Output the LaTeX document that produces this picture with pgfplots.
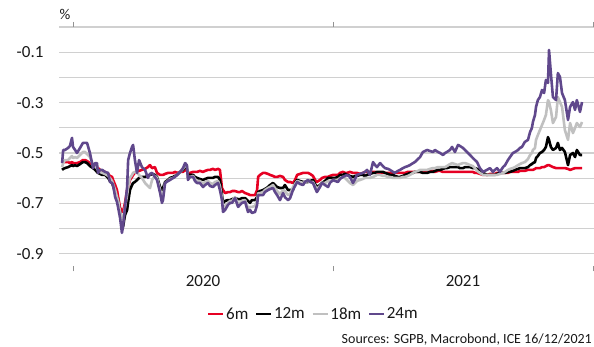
\documentclass[border=0pt]{standalone}
\usepackage{pgfplots}
\pgfplotsset{compat=1.18}
\usepackage{pgfplotstable}
\usepackage{fontspec}
\setmainfont{Carlito}

\definecolor{c6}{RGB}{230,0,35}
\definecolor{c12}{RGB}{0,0,0}
\definecolor{c18}{RGB}{192,192,192}
\definecolor{c24}{RGB}{96,72,140}
\definecolor{gridc}{RGB}{208,208,208}
\definecolor{txt}{RGB}{25,25,25}

% Swap rates by maturity, in %, time as decimal year
\pgfplotstableread{
t r6 r12 r18 r24
2019.958 -0.540 -0.567 -0.556 -0.540
2019.962 -0.536 -0.563 -0.540 -0.488
2019.969 -0.536 -0.560 -0.528 -0.488
2019.981 -0.536 -0.556 -0.528 -0.480
2019.988 -0.540 -0.552 -0.520 -0.472
2019.996 -0.536 -0.548 -0.512 -0.440
2020.000 -0.540 -0.552 -0.520 -0.476
2020.008 -0.540 -0.548 -0.516 -0.488
2020.015 -0.540 -0.552 -0.520 -0.500
2020.027 -0.536 -0.544 -0.508 -0.480
2020.038 -0.528 -0.536 -0.496 -0.460
2020.046 -0.528 -0.536 -0.496 -0.460
2020.054 -0.532 -0.540 -0.504 -0.460
2020.065 -0.540 -0.552 -0.516 -0.500
2020.077 -0.552 -0.560 -0.548 -0.560
2020.085 -0.552 -0.567 -0.552 -0.540
2020.092 -0.556 -0.575 -0.560 -0.540
2020.096 -0.560 -0.579 -0.567 -0.579
2020.104 -0.567 -0.583 -0.575 -0.567
2020.112 -0.571 -0.587 -0.579 -0.567
2020.123 -0.575 -0.587 -0.583 -0.575
2020.135 -0.583 -0.599 -0.591 -0.579
2020.142 -0.591 -0.611 -0.599 -0.615
2020.150 -0.595 -0.619 -0.611 -0.619
2020.154 -0.607 -0.631 -0.623 -0.627
2020.162 -0.627 -0.655 -0.647 -0.675
2020.169 -0.647 -0.679 -0.675 -0.694
2020.173 -0.671 -0.687 -0.687 -0.714
2020.181 -0.718 -0.734 -0.734 -0.758
2020.188 -0.730 -0.766 -0.766 -0.817
2020.192 -0.734 -0.794 -0.766 -0.794
2020.200 -0.698 -0.746 -0.714 -0.714
2020.208 -0.647 -0.726 -0.667 -0.635
2020.212 -0.635 -0.694 -0.635 -0.528
2020.219 -0.607 -0.647 -0.599 -0.500
2020.227 -0.595 -0.627 -0.587 -0.476
2020.231 -0.587 -0.619 -0.579 -0.468
2020.238 -0.579 -0.615 -0.575 -0.528
2020.246 -0.575 -0.607 -0.579 -0.579
2020.254 -0.571 -0.599 -0.587 -0.528
2020.265 -0.567 -0.595 -0.599 -0.556
2020.277 -0.563 -0.595 -0.619 -0.567
2020.288 -0.556 -0.591 -0.631 -0.599
2020.296 -0.548 -0.587 -0.639 -0.583
2020.304 -0.560 -0.583 -0.607 -0.579
2020.315 -0.556 -0.587 -0.591 -0.595
2020.323 -0.579 -0.595 -0.599 -0.607
2020.335 -0.587 -0.635 -0.647 -0.659
2020.342 -0.587 -0.647 -0.679 -0.698
2020.346 -0.587 -0.639 -0.671 -0.687
2020.354 -0.583 -0.615 -0.619 -0.619
2020.365 -0.579 -0.607 -0.611 -0.611
2020.373 -0.579 -0.599 -0.603 -0.607
2020.385 -0.579 -0.595 -0.599 -0.599
2020.392 -0.575 -0.591 -0.595 -0.595
2020.400 -0.579 -0.587 -0.587 -0.587
2020.412 -0.575 -0.575 -0.575 -0.575
2020.423 -0.575 -0.567 -0.563 -0.560
2020.431 -0.567 -0.556 -0.548 -0.540
2020.438 -0.571 -0.560 -0.552 -0.548
2020.442 -0.579 -0.587 -0.599 -0.607
2020.450 -0.579 -0.587 -0.595 -0.595
2020.462 -0.575 -0.587 -0.591 -0.595
2020.469 -0.575 -0.595 -0.603 -0.611
2020.477 -0.575 -0.599 -0.611 -0.619
2020.488 -0.571 -0.603 -0.611 -0.619
2020.500 -0.575 -0.607 -0.623 -0.635
2020.508 -0.571 -0.603 -0.615 -0.627
2020.519 -0.567 -0.599 -0.611 -0.619
2020.527 -0.567 -0.599 -0.619 -0.631
2020.538 -0.563 -0.599 -0.623 -0.635
2020.546 -0.567 -0.595 -0.615 -0.627
2020.558 -0.563 -0.595 -0.611 -0.619
2020.565 -0.567 -0.607 -0.631 -0.647
2020.573 -0.639 -0.667 -0.679 -0.687
2020.577 -0.647 -0.698 -0.718 -0.734
2020.585 -0.659 -0.690 -0.710 -0.726
2020.596 -0.655 -0.687 -0.698 -0.706
2020.604 -0.655 -0.687 -0.690 -0.698
2020.612 -0.651 -0.683 -0.690 -0.698
2020.623 -0.651 -0.679 -0.675 -0.679
2020.635 -0.655 -0.683 -0.702 -0.714
2020.642 -0.655 -0.683 -0.698 -0.706
2020.650 -0.651 -0.679 -0.690 -0.698
2020.662 -0.659 -0.679 -0.687 -0.694
2020.673 -0.663 -0.690 -0.718 -0.734
2020.681 -0.667 -0.698 -0.714 -0.726
2020.688 -0.667 -0.687 -0.714 -0.738
2020.700 -0.667 -0.687 -0.710 -0.734
2020.708 -0.647 -0.675 -0.690 -0.706
2020.712 -0.595 -0.655 -0.659 -0.667
2020.719 -0.587 -0.651 -0.659 -0.667
2020.731 -0.579 -0.647 -0.655 -0.667
2020.738 -0.579 -0.643 -0.647 -0.655
2020.750 -0.583 -0.635 -0.639 -0.647
2020.758 -0.587 -0.627 -0.635 -0.643
2020.769 -0.591 -0.619 -0.627 -0.639
2020.777 -0.595 -0.627 -0.639 -0.655
2020.785 -0.595 -0.635 -0.651 -0.667
2020.796 -0.591 -0.639 -0.663 -0.687
2020.808 -0.595 -0.639 -0.647 -0.659
2020.815 -0.607 -0.627 -0.651 -0.675
2020.827 -0.615 -0.647 -0.667 -0.687
2020.835 -0.615 -0.647 -0.663 -0.679
2020.846 -0.619 -0.647 -0.635 -0.647
2020.854 -0.607 -0.619 -0.623 -0.631
2020.862 -0.587 -0.607 -0.611 -0.615
2020.873 -0.583 -0.611 -0.615 -0.623
2020.885 -0.579 -0.615 -0.619 -0.627
2020.892 -0.579 -0.615 -0.615 -0.615
2020.904 -0.579 -0.615 -0.611 -0.607
2020.912 -0.583 -0.611 -0.615 -0.615
2020.923 -0.591 -0.607 -0.615 -0.619
2020.931 -0.607 -0.623 -0.631 -0.639
2020.938 -0.615 -0.635 -0.643 -0.655
2020.950 -0.607 -0.627 -0.631 -0.635
2020.958 -0.599 -0.619 -0.619 -0.619
2020.969 -0.595 -0.611 -0.619 -0.627
2020.981 -0.595 -0.599 -0.611 -0.635
2020.988 -0.591 -0.599 -0.611 -0.619
2021.000 -0.587 -0.599 -0.607 -0.607
2021.008 -0.587 -0.599 -0.607 -0.611
2021.019 -0.587 -0.595 -0.607 -0.615
2021.027 -0.579 -0.587 -0.599 -0.603
2021.038 -0.575 -0.587 -0.595 -0.595
2021.046 -0.579 -0.583 -0.599 -0.591
2021.054 -0.579 -0.587 -0.607 -0.587
2021.065 -0.575 -0.591 -0.619 -0.595
2021.077 -0.579 -0.595 -0.627 -0.619
2021.085 -0.579 -0.591 -0.619 -0.603
2021.092 -0.579 -0.591 -0.611 -0.587
2021.104 -0.583 -0.587 -0.607 -0.583
2021.115 -0.579 -0.587 -0.603 -0.579
2021.123 -0.575 -0.591 -0.599 -0.575
2021.131 -0.575 -0.587 -0.599 -0.567
2021.142 -0.575 -0.583 -0.599 -0.587
2021.154 -0.575 -0.579 -0.595 -0.536
2021.162 -0.575 -0.579 -0.591 -0.548
2021.169 -0.579 -0.575 -0.587 -0.556
2021.181 -0.579 -0.575 -0.587 -0.540
2021.192 -0.579 -0.575 -0.591 -0.552
2021.200 -0.579 -0.579 -0.591 -0.560
2021.212 -0.579 -0.583 -0.595 -0.563
2021.219 -0.579 -0.587 -0.595 -0.567
2021.231 -0.583 -0.587 -0.599 -0.575
2021.238 -0.579 -0.591 -0.599 -0.579
2021.250 -0.579 -0.595 -0.599 -0.571
2021.258 -0.579 -0.595 -0.599 -0.567
2021.269 -0.579 -0.591 -0.595 -0.560
2021.277 -0.579 -0.587 -0.595 -0.556
2021.288 -0.575 -0.583 -0.591 -0.552
2021.296 -0.575 -0.579 -0.587 -0.548
2021.308 -0.575 -0.579 -0.579 -0.540
2021.315 -0.575 -0.575 -0.575 -0.536
2021.327 -0.575 -0.575 -0.571 -0.524
2021.335 -0.575 -0.575 -0.567 -0.516
2021.346 -0.575 -0.579 -0.567 -0.496
2021.354 -0.571 -0.579 -0.567 -0.492
2021.362 -0.575 -0.579 -0.567 -0.488
2021.373 -0.571 -0.575 -0.563 -0.492
2021.385 -0.571 -0.575 -0.560 -0.496
2021.392 -0.575 -0.571 -0.560 -0.488
2021.404 -0.571 -0.567 -0.556 -0.496
2021.412 -0.571 -0.567 -0.556 -0.500
2021.423 -0.575 -0.563 -0.556 -0.508
2021.431 -0.575 -0.560 -0.556 -0.500
2021.438 -0.575 -0.560 -0.552 -0.496
2021.450 -0.575 -0.556 -0.544 -0.488
2021.458 -0.575 -0.556 -0.540 -0.476
2021.469 -0.575 -0.556 -0.544 -0.496
2021.481 -0.575 -0.556 -0.548 -0.468
2021.488 -0.575 -0.560 -0.544 -0.472
2021.500 -0.575 -0.560 -0.540 -0.480
2021.508 -0.575 -0.556 -0.540 -0.488
2021.519 -0.575 -0.556 -0.544 -0.500
2021.527 -0.575 -0.556 -0.548 -0.508
2021.538 -0.575 -0.560 -0.552 -0.520
2021.546 -0.579 -0.560 -0.560 -0.528
2021.554 -0.579 -0.563 -0.571 -0.536
2021.565 -0.583 -0.571 -0.579 -0.560
2021.577 -0.587 -0.579 -0.587 -0.575
2021.585 -0.587 -0.583 -0.587 -0.571
2021.592 -0.587 -0.587 -0.587 -0.567
2021.604 -0.583 -0.587 -0.587 -0.560
2021.615 -0.583 -0.587 -0.587 -0.575
2021.623 -0.583 -0.587 -0.587 -0.567
2021.631 -0.579 -0.583 -0.587 -0.560
2021.642 -0.579 -0.579 -0.583 -0.575
2021.654 -0.579 -0.579 -0.579 -0.556
2021.662 -0.579 -0.579 -0.575 -0.548
2021.673 -0.579 -0.575 -0.567 -0.528
2021.681 -0.575 -0.575 -0.563 -0.516
2021.692 -0.575 -0.571 -0.560 -0.500
2021.700 -0.575 -0.567 -0.556 -0.496
2021.712 -0.575 -0.563 -0.548 -0.488
2021.719 -0.571 -0.560 -0.544 -0.480
2021.727 -0.571 -0.560 -0.540 -0.476
2021.738 -0.571 -0.560 -0.536 -0.456
2021.750 -0.567 -0.556 -0.524 -0.448
2021.758 -0.567 -0.548 -0.508 -0.417
2021.765 -0.567 -0.544 -0.500 -0.401
2021.769 -0.567 -0.540 -0.488 -0.377
2021.777 -0.563 -0.536 -0.480 -0.349
2021.781 -0.560 -0.520 -0.448 -0.317
2021.788 -0.560 -0.512 -0.429 -0.290
2021.796 -0.560 -0.500 -0.409 -0.278
2021.804 -0.556 -0.496 -0.389 -0.250
2021.812 -0.556 -0.488 -0.369 -0.262
2021.819 -0.552 -0.476 -0.349 -0.210
2021.827 -0.548 -0.437 -0.290 -0.222
2021.831 -0.548 -0.448 -0.298 -0.091
2021.838 -0.552 -0.476 -0.329 -0.183
2021.846 -0.556 -0.488 -0.381 -0.278
2021.858 -0.560 -0.480 -0.357 -0.290
2021.865 -0.560 -0.460 -0.278 -0.183
2021.873 -0.560 -0.488 -0.298 -0.198
2021.881 -0.560 -0.480 -0.317 -0.262
2021.892 -0.560 -0.496 -0.409 -0.290
2021.904 -0.563 -0.548 -0.448 -0.369
2021.912 -0.567 -0.508 -0.381 -0.317
2021.923 -0.563 -0.500 -0.421 -0.298
2021.931 -0.560 -0.516 -0.401 -0.329
2021.938 -0.560 -0.488 -0.381 -0.290
2021.950 -0.560 -0.508 -0.397 -0.337
2021.958 -0.560 -0.508 -0.377 -0.298
}\rates

\begin{document}
\begin{tikzpicture}[font=\fontsize{17}{20}\selectfont]
\path[use as bounding box] (0pt,0pt) rectangle (594pt,347pt);
\begin{axis}[
  at={(59pt,80.6pt)}, anchor=south west,
  scale only axis, width=535pt, height=239.4pt,
  xmin=2019.946, xmax=2022.004,
  ymin=-0.95, ymax=0,
  axis line style={draw=none},
  ytick={-0.9,-0.7,-0.5,-0.3,-0.1},
  yticklabels={-0.9,-0.7,-0.5,-0.3,-0.1},
  minor ytick={-0.8,-0.6,-0.4,-0.2,0},
  ymajorgrids, yminorgrids,
  grid style={gridc, line width=1.1pt},
  minor grid style={gridc, line width=1.1pt},
  y tick style={draw=none},
  minor tick length=0pt,
  xtick={2020,2021,2022}, xticklabels={,,},
  tick align=outside,
  x tick style={gridc!70!black, line width=0.8pt},
  major tick length=5pt,
  extra x ticks={2020.5,2021.5},
  extra x tick labels={2020,2021},
  extra x tick style={major tick length=0pt, tick style={draw=none},
     xticklabel style={yshift=-6pt}},
  yticklabel style={text=txt, xshift=-7pt},
  xticklabel style={text=txt},
  legend columns=4,
  legend style={draw=none, fill=none, at={(0.475,-0.199)}, anchor=center,
    font=\fontsize{17}{20}\selectfont, text=txt,
    /tikz/every even column/.append style={column sep=5pt},
    nodes={inner sep=1.5pt}},
  legend image code/.code={\draw[#1, line width=2.6pt] (0pt,0pt) -- (15pt,0pt);},
  every axis plot/.append style={line width=2.6pt, line join=round},
]
\addplot[c6]  table[x=t, y=r6]  {\rates};
\addplot[c12] table[x=t, y=r12] {\rates};
\addplot[c18] table[x=t, y=r18] {\rates};
\addplot[c24] table[x=t, y=r24] {\rates};
\legend{6m, 12m, 18m, 24m}
\end{axis}
\node[anchor=base west, inner sep=0pt, text=txt, font=\fontsize{15}{18}\selectfont] at (59.5pt,327pt) {\%};
\node[anchor=base east, inner sep=0pt, text=txt, font=\fontsize{14}{17}\selectfont] at (592pt,3pt) {Sources: SGPB, Macrobond, ICE 16/12/2021};
\end{tikzpicture}
\end{document}
